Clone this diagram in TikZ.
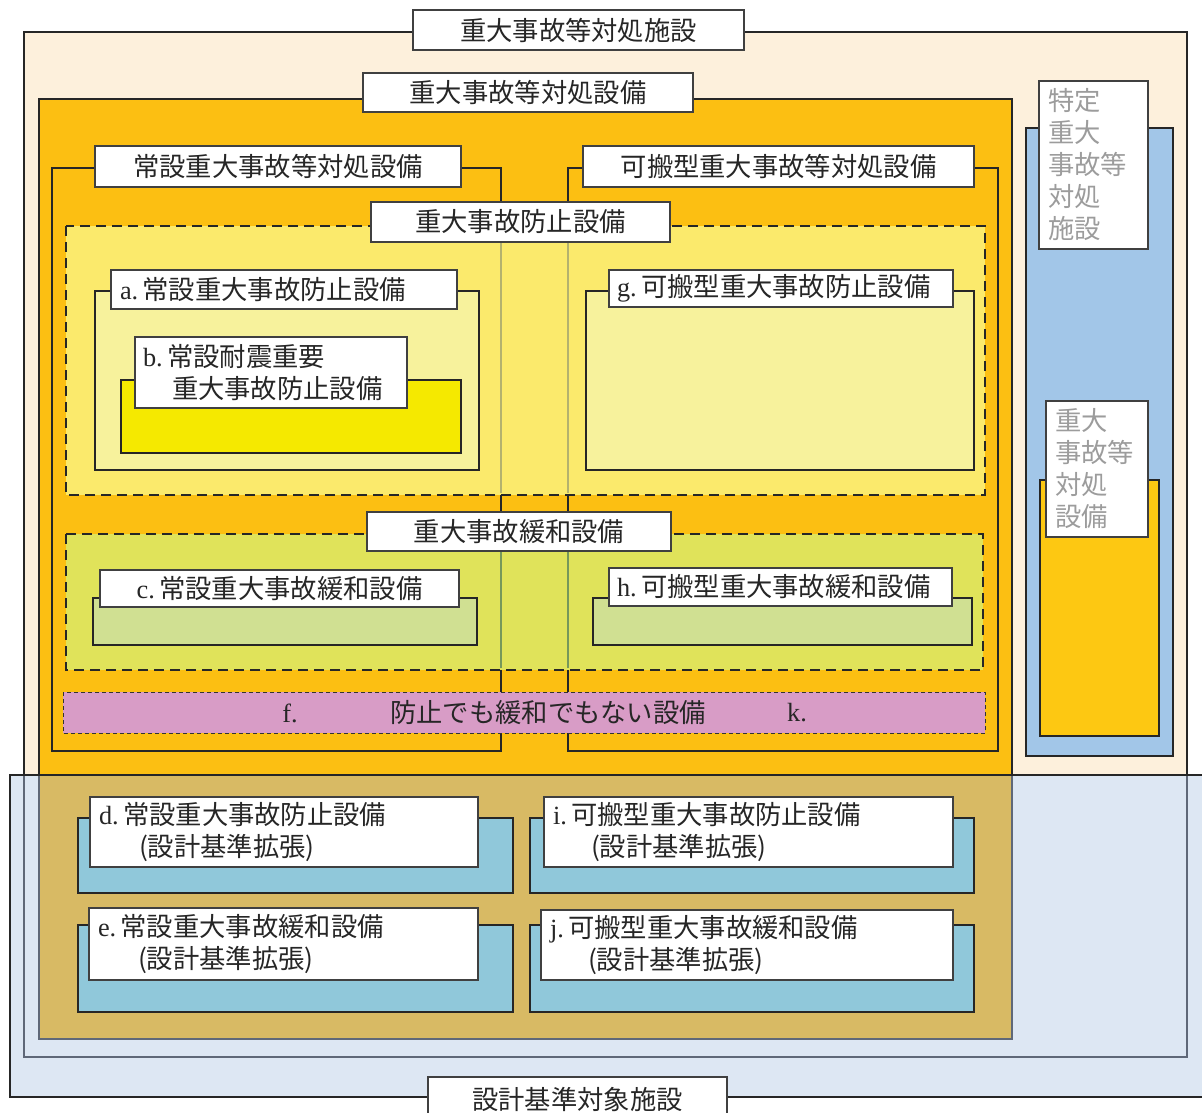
\documentclass[tikz,border=0pt]{standalone}
\usepackage{fontspec}
\setmainfont{Liberation Serif}
\newfontfamily\jp{Noto Sans CJK JP}
\newcommand\jpf{\jp\fontsize{26.3}{32}\selectfont}
\newcommand\ltr[1]{{\rmfamily #1}}
\definecolor{cream}{HTML}{FDF0DC}
\definecolor{orangeY}{HTML}{FCBF12}
\definecolor{prevY}{HTML}{FBEA6C}
\definecolor{paleY}{HTML}{F7F29C}
\definecolor{brightY}{HTML}{F5E900}
\definecolor{mitG}{HTML}{E0E35A}
\definecolor{lightG}{HTML}{D0E092}
\definecolor{pinkF}{HTML}{D89CC6}
\definecolor{blueR}{HTML}{A2C6E8}
\definecolor{yellowR}{HTML}{FDC812}
\definecolor{cyanD}{HTML}{90C8DA}
\definecolor{overB}{HTML}{DDE7F3}
\definecolor{tanO}{HTML}{D8BA64}
\definecolor{lineGray}{HTML}{5F6878}
\definecolor{oliveL}{HTML}{B4B26E}
\definecolor{greenL}{HTML}{76985A}
\definecolor{grayT}{HTML}{9C9C9C}
\begin{document}
\begin{tikzpicture}[x=1pt,y=-1pt,
  frame/.style={draw=black!85, line width=2.4pt},
  dashframe/.style={draw=black!85, line width=2pt, dash pattern=on 10pt off 6pt},
  lb/.style={draw=black!75, line width=1.1pt, fill=white, inner sep=0pt, font=\jpf, text=black!85},
  lbl/.style={lb, align=left, inner xsep=9pt},
  graylbl/.style={lbl, text=grayT},
  plain/.style={inner sep=0pt, font=\jpf, text=black!85},
]
\useasboundingbox (0,0) rectangle (1202,1113);
\fill[white] (0,0) rectangle (1202,1113);

% outer facility frame
\path[frame, fill=cream] (24,32) rectangle (1187,1057);
\node[lb, minimum width=331pt, minimum height=40pt] (sisetsu) at (578.5,30) {重大事故等対処施設};

% equipment frame
\path[frame, fill=orangeY] (39,99) rectangle (1012,1039);
\node[lb, minimum width=330pt, minimum height=39pt] (setsubi) at (528,92.5) {重大事故等対処設備};

% permanent / portable frames
\path[frame] (52,168) rectangle (501,751);
\path[frame] (568,168) rectangle (998,751);
\node[lb, minimum width=366pt, minimum height=41pt] (josetsu) at (278,166.5) {常設重大事故等対処設備};
\node[lb, minimum width=391pt, minimum height=41pt] (kahan) at (778.5,166.5) {可搬型重大事故等対処設備};

% prevention region
\path[dashframe, fill=prevY] (66,226) rectangle (985,495);
\draw[oliveL, line width=2pt] (501,228) -- (501,493) (568,228) -- (568,493);
% mitigation region
\path[dashframe, fill=mitG] (66,534) rectangle (983,670);
\draw[greenL, line width=2pt] (501,536) -- (501,668) (568,536) -- (568,668);

\node[lb, minimum width=299pt, minimum height=40pt] (boshi) at (520.5,222) {重大事故防止設備};
\node[lb, minimum width=304pt, minimum height=39pt] (kanwa) at (519,531.5) {重大事故緩和設備};

% a
\path[frame, fill=paleY] (95,291) rectangle (479,470);
\node[lbl, text width=328pt, minimum height=39pt] (la) at (284,289.5) {\ltr{a.}\,常設重大事故防止設備};
% b
\path[frame, fill=brightY] (121,380) rectangle (461,453);
\node[lbl, inner xsep=8pt, text width=256pt, minimum height=71pt] (lb) at (271,372.5) {\ltr{b.}\,常設耐震重要\\\hspace*{29pt}重大事故防止設備};
% g
\path[frame, fill=paleY] (586,291) rectangle (974,470);
\node[lbl, inner xsep=8pt, text width=328pt, minimum height=37pt] (lg) at (781,288.5) {\ltr{g.}\,可搬型重大事故防止設備};
% c
\path[frame, fill=lightG] (93,598) rectangle (477,645);
\node[lb, minimum width=359pt, minimum height=37pt] (lc) at (279.5,588.5) {\ltr{c.}\,常設重大事故緩和設備};
% h
\path[frame, fill=lightG] (593,598) rectangle (972,645);
\node[lbl, inner xsep=8pt, text width=327pt, minimum height=38pt] (lh) at (780.5,587) {\ltr{h.}\,可搬型重大事故緩和設備};

% f row
\path[fill=pinkF, draw=black!80, line width=1pt, dash pattern=on 4pt off 3pt] (63,692) rectangle (985,733);
\node[plain] (ff) at (290,713) {\ltr{f.}};
\node[plain] (fk) at (548,713) {防止でも緩和でもない設備};
\node[plain] (kk) at (797,713) {\ltr{k.}};

% right side: specific facility
\path[frame, fill=blueR] (1026,128) rectangle (1173,756);
\node[graylbl, inner xsep=9pt, text width=91pt, minimum height=168pt] (tokutei) at (1093.5,165) {特定\\重大\\事故等\\対処\\施設};
\path[frame, fill=yellowR] (1040,480) rectangle (1159,736);
\node[graylbl, inner xsep=9pt, text width=84pt, minimum height=136pt] (tokusetsu) at (1097,469) {重大\\事故等\\対処\\設備};

% design basis overlay
\fill[overB] (10,775) rectangle (1202,1097);
\fill[tanO] (39,775) rectangle (1012,1039);
\draw[lineGray, line width=2.2pt] (24,775) -- (24,1057) -- (1187,1057) -- (1187,775);
\draw[lineGray, line width=2.2pt] (39,775) -- (39,1039) -- (1012,1039) -- (1012,775);
\draw[black!85, line width=2.4pt] (1202,775) -- (10,775) -- (10,1097) -- (1202,1097);

% d, e, i, j
\path[frame, fill=cyanD] (78,818) rectangle (513,893);
\node[lbl, text width=370pt, minimum height=70pt] (ld) at (284,832) {\ltr{d.}\,常設重大事故防止設備\\\hspace*{40pt}(設計基準拡張)};
\path[frame, fill=cyanD] (530,818) rectangle (974,893);
\node[lbl, text width=391pt, minimum height=70pt] (li) at (748.5,832) {\ltr{i.}\,可搬型重大事故防止設備\\\hspace*{38pt}(設計基準拡張)};
\path[frame, fill=cyanD] (78,925) rectangle (513,1012);
\node[lbl, text width=371pt, minimum height=72pt] (le) at (283.5,944) {\ltr{e.}\,常設重大事故緩和設備\\\hspace*{40pt}(設計基準拡張)};
\path[frame, fill=cyanD] (530,925) rectangle (974,1012);
\node[lbl, text width=394pt, minimum height=70pt] (lj) at (747,945) {\ltr{j.}\,可搬型重大事故緩和設備\\\hspace*{38pt}(設計基準拡張)};

\node[lb, minimum width=299pt, minimum height=44pt] (sekkei) at (577.5,1099) {設計基準対象施設};
\end{tikzpicture}
\end{document}
